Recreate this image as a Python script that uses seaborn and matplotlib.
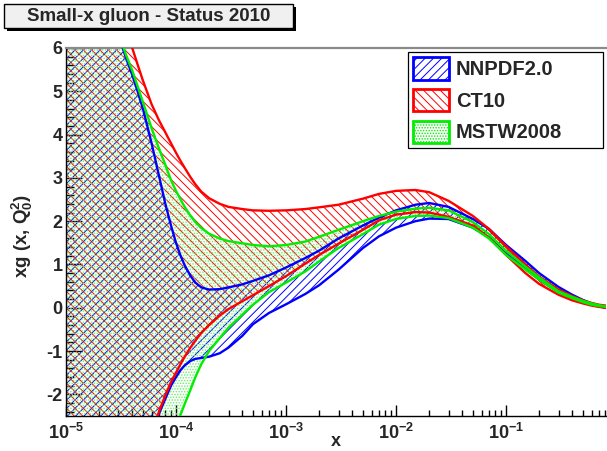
import numpy as np
import pandas as pd
import matplotlib
matplotlib.use("Agg")
import matplotlib.pyplot as plt
import seaborn as sns
from matplotlib.patches import Patch, Rectangle
from matplotlib.ticker import LogLocator, MultipleLocator, FuncFormatter, NullFormatter, FixedLocator

# ---------------- data ----------------
x_vals = [1e-5, 2e-5, 3e-5, 3.5e-5, 4e-5, 4.5e-5, 5e-5, 6e-5, 7e-5, 8e-5,
          9e-5, 1e-4, 1.1e-4, 1.2e-4, 1.35e-4, 1.5e-4, 1.7e-4, 2e-4, 2.5e-4, 3e-4,
          4e-4, 5e-4, 7e-4, 1e-3, 1.5e-3, 2e-3, 3e-3, 5e-3, 7e-3, 1e-2,
          1.5e-2, 2e-2, 3e-2, 5e-2, 7e-2, 0.1, 0.15, 0.2, 0.3, 0.4,
          0.5, 0.6, 0.7, 0.81]

nnpdf_hi = [11, 8.0, 6.3, 5.78, 5.38, 4.98, 4.6, 3.8, 3.05, 2.4,
            1.9, 1.5, 1.2, 0.98, 0.74, 0.58, 0.47, 0.42, 0.43, 0.47,
            0.54, 0.62, 0.75, 0.93, 1.15, 1.32, 1.60, 1.90, 2.08, 2.25,
            2.38, 2.42, 2.33, 2.05, 1.82, 1.45, 1.08, 0.80, 0.48, 0.30,
            0.18, 0.10, 0.05, 0.01]
nnpdf_lo = [-20, -10, -7, -6, -5.2, -4.5, -3.9, -3.05, -2.45, -2.1,
            -1.8, -1.6, -1.44, -1.33, -1.23, -1.18, -1.16, -1.13, -1.05, -0.92,
            -0.65, -0.38, -0.12, 0.08, 0.32, 0.52, 0.88, 1.38, 1.65, 1.85,
            2.0, 2.06, 2.05, 1.85, 1.62, 1.25, 0.90, 0.65, 0.36, 0.22,
            0.13, 0.07, 0.03, 0.0]

ct10_hi = [16, 9.5, 7.0, 6.45, 6.0, 5.6, 5.25, 4.7, 4.33, 4.05,
           3.8, 3.58, 3.39, 3.23, 3.02, 2.85, 2.68, 2.53, 2.40, 2.33,
           2.28, 2.25, 2.24, 2.25, 2.28, 2.32, 2.38, 2.52, 2.63, 2.70,
           2.72, 2.67, 2.47, 2.12, 1.82, 1.42, 1.0, 0.72, 0.42, 0.27,
           0.17, 0.11, 0.07, 0.05]
ct10_lo = [-20, -10, -6.5, -5.5, -4.8, -4.2, -3.7, -2.95, -2.4, -2.02,
           -1.72, -1.5, -1.3, -1.13, -0.92, -0.76, -0.58, -0.40, -0.18, -0.03,
           0.15, 0.29, 0.50, 0.73, 1.02, 1.22, 1.48, 1.80, 2.02, 2.15,
           2.21, 2.20, 2.10, 1.90, 1.62, 1.22, 0.80, 0.55, 0.30, 0.17,
           0.10, 0.05, 0.02, 0.0]

mstw_hi = [11, 8.2, 6.35, 5.85, 5.48, 5.1, 4.75, 4.15, 3.68, 3.3,
           2.95, 2.7, 2.5, 2.33, 2.13, 1.98, 1.84, 1.71, 1.60, 1.54,
           1.49, 1.45, 1.42, 1.45, 1.53, 1.64, 1.80, 2.0, 2.12, 2.22,
           2.29, 2.31, 2.25, 1.98, 1.70, 1.32, 0.95, 0.70, 0.38, 0.25,
           0.16, 0.10, 0.06, 0.03]
mstw_lo = [-20, -12, -9, -8, -7.2, -6.4, -5.7, -4.6, -3.85, -3.35,
           -3.0, -2.72, -2.47, -2.22, -1.9, -1.6, -1.3, -1.0, -0.70, -0.46,
           -0.16, 0.07, 0.36, 0.58, 0.84, 1.07, 1.38, 1.70, 1.92, 2.05,
           2.12, 2.13, 2.07, 1.85, 1.60, 1.22, 0.88, 0.65, 0.35, 0.22,
           0.13, 0.07, 0.04, 0.02]

set_names = ["NNPDF2.0", "CT10", "MSTW2008"]
y_ticks = [-2, -1, 0, 1, 2, 3, 4, 5, 6]
title_text = "Small-x gluon - Status 2010"

# ---------------- style ----------------
sns.set_theme(style="white")
plt.rcParams["font.family"] = ["Liberation Sans", "DejaVu Sans"]
plt.rcParams["font.weight"] = "bold"
plt.rcParams["mathtext.fontset"] = "custom"
plt.rcParams["mathtext.rm"] = "Liberation Sans:bold"
plt.rcParams["mathtext.it"] = "Liberation Sans:bold"
plt.rcParams["mathtext.bf"] = "Liberation Sans:bold"
plt.rcParams["mathtext.default"] = "rm"
plt.rcParams["hatch.linewidth"] = 0.7
plt.rcParams["axes.unicode_minus"] = False

W, H = 607, 451
fig = plt.figure(figsize=(W / 100, H / 100), dpi=100)
fig.patch.set_facecolor("white")
ax = fig.add_axes([66 / W, 35 / H, 540 / W, 368 / H])
ax.set_facecolor("white")

colors = {"NNPDF2.0": "#0000ff", "CT10": "#ff0000", "MSTW2008": "#00ee00"}
hatch_cols = {"NNPDF2.0": "#0000ff", "CT10": "#ff0000", "MSTW2008": "#66ee66"}
hatches = {"NNPDF2.0": "////", "CT10": "\\\\\\\\", "MSTW2008": "......"}
bands = {"NNPDF2.0": (nnpdf_lo, nnpdf_hi),
         "CT10": (ct10_lo, ct10_hi),
         "MSTW2008": (mstw_lo, mstw_hi)}

rows = []
for name in set_names:
    lo, hi = bands[name]
    for xv, a, b in zip(x_vals, lo, hi):
        rows.append({"x": xv, "xg": a, "curve": name + " lo", "set": name})
        rows.append({"x": xv, "xg": b, "curve": name + " hi", "set": name})
df = pd.DataFrame(rows)

for name in set_names:
    lo, hi = bands[name]
    ax.fill_between(x_vals, lo, hi, facecolor="none", edgecolor=hatch_cols[name],
                    hatch=hatches[name], linewidth=0, zorder=1)

for name in set_names:
    sub = df[df["set"] == name]
    sns.lineplot(data=sub, x="x", y="xg", units="curve", estimator=None,
                 color=colors[name], linewidth=1.7, ax=ax, legend=False,
                 zorder=3, sort=True)

ax.set_xscale("log")
ax.set_xlim(1e-5, 0.81)
ax.set_ylim(-2.5, 6)
ax.set_xlabel("")
ax.set_ylabel("")

ax.xaxis.set_major_locator(LogLocator(base=10, numticks=12))
ax.xaxis.set_minor_locator(LogLocator(base=10, subs=np.arange(2, 10), numticks=12))
ax.xaxis.set_major_formatter(FuncFormatter(lambda v, p: r"$10^{%d}$" % int(round(np.log10(v)))))
ax.xaxis.set_minor_formatter(NullFormatter())
ax.yaxis.set_major_locator(FixedLocator(y_ticks))
ax.yaxis.set_minor_locator(MultipleLocator(0.2))
ax.yaxis.set_major_formatter(FuncFormatter(lambda v, p: "%d" % v))

ax.tick_params(axis="x", which="major", direction="in", length=8, width=1,
               color="black", labelsize=13, pad=5, bottom=True, top=False)
ax.tick_params(axis="x", which="minor", direction="in", length=4, width=1,
               color="black", bottom=True, top=False)
ax.tick_params(axis="y", which="major", direction="in", length=11.5, width=1,
               color="black", labelsize=13, pad=2.5, left=True, right=False)
ax.tick_params(axis="y", which="minor", direction="in", length=5.8, width=1,
               color="black", left=True, right=False)
for lab in ax.get_xticklabels() + ax.get_yticklabels():
    lab.set_fontweight("bold")

for side in ["left", "bottom"]:
    ax.spines[side].set_color("black")
    ax.spines[side].set_linewidth(1.0)
ax.spines["top"].set_color("#8a8a8a")
ax.spines["top"].set_linewidth(1.6)
ax.spines["right"].set_visible(False)
ax.grid(False)

# legend
handles = [Patch(facecolor="white", edgecolor=colors[n], hatch=hatches[n],
                 linewidth=2, label=n) for n in set_names]
leg = ax.legend(handles=handles, loc="upper left",
                bbox_to_anchor=(408 / W, 1 - 163 / H, 195 / W, 111 / H),
                bbox_transform=fig.transFigure, mode="expand",
                prop={"weight": "bold", "size": 14.5},
                handlelength=1.75, handleheight=1.34, handletextpad=0.35,
                labelspacing=0.45, borderpad=0.27, borderaxespad=0,
                frameon=True, fancybox=False, shadow=False)
leg.get_frame().set_edgecolor("black")
leg.get_frame().set_linewidth(0.9)
leg.get_frame().set_facecolor("white")
leg.get_frame().set_alpha(1)
leg.set_zorder(10)

# axis titles
fig.text(336 / W, 1 - 442 / H, "x", ha="center", va="center",
         fontsize=13, fontweight="bold")
fig.text(22 / W, 1 - 236 / H, r"xg (x, Q$_{0}^{2}$)", ha="center", va="center",
         rotation=90, fontsize=13.5, fontweight="bold")

# title box with shadow
fig.patches.append(Rectangle((7 / W, 1 - 31 / H), 289 / W, 24 / H,
                             transform=fig.transFigure, facecolor="black",
                             edgecolor="none", zorder=1))
fig.patches.append(Rectangle((4 / W, 1 - 28 / H), 289 / W, 24 / H,
                             transform=fig.transFigure, facecolor="#f0f0f0",
                             edgecolor="black", linewidth=1, zorder=2))
fig.text(148.5 / W, 1 - 16.5 / H, title_text, ha="center", va="center",
         fontsize=13.5, fontweight="bold", zorder=3)

fig.savefig("out.png", dpi=100, facecolor="white")
